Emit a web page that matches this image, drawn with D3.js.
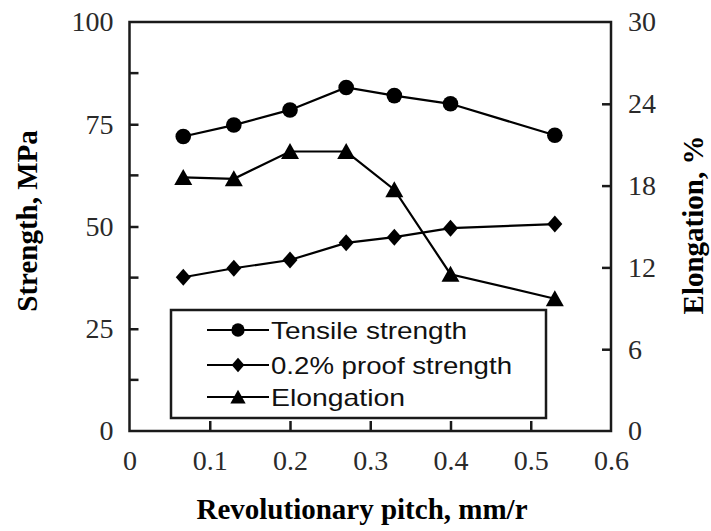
<!DOCTYPE html>
<html><head><meta charset="utf-8">
<script src="https://cdn.jsdelivr.net/npm/d3@7"></script>
<style>body{margin:0;background:#fff}svg{display:block}</style>
</head><body>
<script>
const pitch = [0.067, 0.13, 0.2, 0.27, 0.33, 0.4, 0.53];
const tensile = [72, 74.8, 78.5, 84, 82, 80, 72.3];
const proof = [37.6, 39.8, 41.8, 46, 47.4, 49.6, 50.6];
const elongation = [18.6, 18.5, 20.5, 20.5, 17.7, 11.5, 9.7];
const xTicks = [0, 0.1, 0.2, 0.3, 0.4, 0.5, 0.6];
const leftTicks = [0, 25, 50, 75, 100];
const leftMinor = [12.5, 37.5, 62.5, 87.5];
const rightTicks = [0, 6, 12, 18, 24, 30];
const seriesNames = ["Tensile strength", "0.2% proof strength", "Elongation"];

const W = 711, H = 531;
const svg = d3.select("body").append("svg").attr("width", W).attr("height", H);
const x = d3.scaleLinear().domain([0, 0.6]).range([129.5, 611]);
const yL = d3.scaleLinear().domain([0, 100]).range([431, 22]);
const yR = d3.scaleLinear().domain([0, 30]).range([431, 22]);
const ink = "#1a1a1a";

// frame
svg.append("rect").attr("x", x(0)).attr("y", yL(100)).attr("width", x(0.6) - x(0)).attr("height", yL(0) - yL(100))
  .attr("fill", "none").attr("stroke", ink).attr("stroke-width", 2.5);

const serif = "'Liberation Serif','Times New Roman',serif";
// left axis
const gl = svg.append("g").attr("transform", `translate(${x(0)},0)`)
  .call(d3.axisLeft(yL).tickValues(leftTicks).tickSize(-9).tickPadding(16).tickFormat(d3.format("d")));
gl.append("g").selectAll("line").data(leftMinor).join("line")
  .attr("x1", 0).attr("x2", 9).attr("y1", d => yL(d)).attr("y2", d => yL(d));
// right axis
const gr = svg.append("g").attr("transform", `translate(${x(0.6)},0)`)
  .call(d3.axisRight(yR).tickValues(rightTicks).tickSize(-9).tickPadding(17).tickFormat(d3.format("d")));
// bottom axis
const gb = svg.append("g").attr("transform", `translate(0,${yL(0)})`)
  .call(d3.axisBottom(x).tickValues(xTicks).tickSize(-10).tickPadding(25).tickFormat(d => d === 0 ? "0" : d3.format(".1f")(d)));
[gl, gr, gb].forEach(g => {
  g.select(".domain").remove();
  g.selectAll("line").attr("stroke", ink).attr("stroke-width", 2.5);
  g.selectAll("text").attr("font-family", serif).attr("font-size", 28).attr("fill", "#2a2a2a");
});
gb.selectAll(".tick text").attr("dy", "0.5em");
gb.selectAll(".tick line").filter(d => d === 0 || d === 0.6).remove();
gl.selectAll(".tick line").filter(d => d === 0 || d === 100).remove();
gr.selectAll(".tick line").filter(d => d === 0 || d === 30).remove();

// axis titles
svg.append("text").attr("transform", "translate(37,221) rotate(-90)").attr("text-anchor", "middle")
  .attr("font-family", serif).attr("font-weight", "bold").attr("font-size", 29).attr("fill", "#000").text("Strength, MPa");
svg.append("text").attr("transform", "translate(703,225) rotate(-90)").attr("text-anchor", "middle")
  .attr("font-family", serif).attr("font-weight", "bold").attr("font-size", 29).attr("fill", "#000").text("Elongation, %");
svg.append("text").attr("x", 362).attr("y", 519).attr("text-anchor", "middle")
  .attr("font-family", serif).attr("font-weight", "bold").attr("font-size", 29).attr("fill", "#000").text("Revolutionary pitch, mm/r");

// markers
const markers = {
  circle: (g, s) => g.append("circle").attr("r", 7.8 * s),
  diamond: (g, s) => g.append("path").attr("d", `M0,${-8.5*s}L${7.5*s},0L0,${8.5*s}L${-7.5*s},0Z`),
  triangle: (g, s) => g.append("path").attr("d", `M0,${-8.5*s}L${9*s},${7.5*s}L${-9*s},${7.5*s}Z`)
};
const series = [
  {name: seriesNames[0], vals: tensile, y: yL, m: "circle"},
  {name: seriesNames[1], vals: proof, y: yL, m: "diamond"},
  {name: seriesNames[2], vals: elongation, y: yR, m: "triangle"}
];
series.forEach(s => {
  const pts = pitch.map((p, i) => [x(p), s.y(s.vals[i])]);
  svg.append("path").attr("d", d3.line()(pts)).attr("fill", "none").attr("stroke", "#000").attr("stroke-width", 2.2);
  pts.forEach(p => {
    const g = svg.append("g").attr("transform", `translate(${p[0]},${p[1]})`).attr("fill", "#000");
    markers[s.m](g, 1);
  });
});

// legend
const lg = svg.append("g");
lg.append("rect").attr("x", 171).attr("y", 310).attr("width", 375).attr("height", 108)
  .attr("fill", "#fff").attr("stroke", ink).attr("stroke-width", 2.5);
const rowsY = [330, 365, 397];
const textLens = [196, 241, 134];
series.forEach((s, i) => {
  const yy = rowsY[i];
  lg.append("line").attr("x1", 207).attr("x2", 269).attr("y1", yy).attr("y2", yy).attr("stroke", "#000").attr("stroke-width", 2.2);
  const g = lg.append("g").attr("transform", `translate(238,${yy})`).attr("fill", "#000");
  markers[s.m](g, 0.85);
  lg.append("text").attr("x", 271).attr("y", yy + 8.5).attr("font-family", "'Liberation Sans',Arial,sans-serif")
    .attr("font-size", 24).attr("fill", "#111").attr("textLength", textLens[i]).attr("lengthAdjust", "spacingAndGlyphs").text(s.name);
});
</script>
</body></html>
